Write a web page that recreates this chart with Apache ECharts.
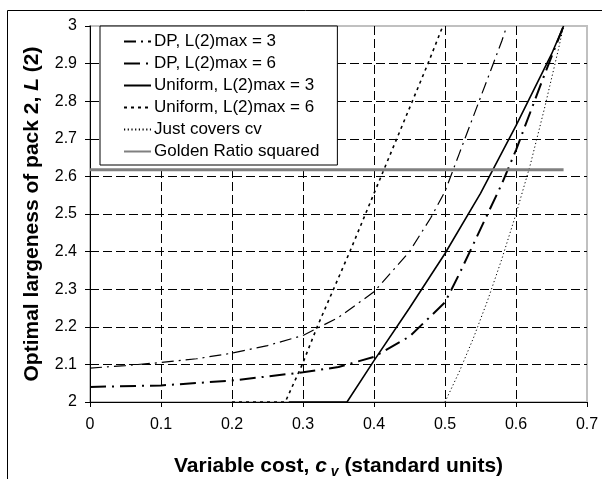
<!DOCTYPE html>
<html>
<head>
<meta charset="utf-8">
<script src="https://cdn.jsdelivr.net/npm/echarts@6/dist/echarts.min.js"></script>
<style>html,body{margin:0;padding:0;background:#fff;}#c{width:602px;height:479px;}</style>
</head>
<body>
<div id="c"></div>
<script>
// ---- data ----
const seriesNames = ["DP, L(2)max = 3", "DP, L(2)max = 6", "Uniform, L(2)max = 3", "Uniform, L(2)max = 6", "Just covers cv", "Golden Ratio squared"];

const dp3X = [0, 0.05, 0.1, 0.15, 0.2, 0.25, 0.3, 0.35, 0.4, 0.45, 0.48, 0.5, 0.52, 0.54, 0.56, 0.58, 0.587];
const dp3Y = [2.09, 2.097, 2.105, 2.115, 2.13, 2.15, 2.177, 2.225, 2.293, 2.40, 2.49, 2.56, 2.66, 2.76, 2.86, 2.96, 3.0];

const dp6X = [0, 0.1, 0.2, 0.3, 0.35, 0.4, 0.45, 0.5, 0.52, 0.54, 0.56, 0.58, 0.6, 0.62, 0.64, 0.667];
const dp6Y = [2.04, 2.044, 2.057, 2.079, 2.093, 2.12, 2.174, 2.265, 2.34, 2.42, 2.5, 2.58, 2.67, 2.77, 2.87, 3.0];

const uni3X = [0.28, 0.362, 0.4, 0.45, 0.5, 0.55, 0.6, 0.65, 0.667];
const uni3Y = [2.0, 2.0, 2.11, 2.25, 2.395, 2.555, 2.735, 2.925, 3.0];

const uni6X = [0.2, 0.275, 0.299, 0.32, 0.343, 0.366, 0.388, 0.41, 0.432, 0.454, 0.476, 0.497];
const uni6Y = [2.0, 2.0, 2.1, 2.2, 2.3, 2.4, 2.5, 2.6, 2.7, 2.8, 2.9, 3.0];

const coverX = [0.5, 0.52, 0.54, 0.56, 0.58, 0.6, 0.62, 0.64, 0.66, 0.667];
const coverY = [2.0, 2.08, 2.17, 2.27, 2.38, 2.5, 2.63, 2.78, 2.94, 3.0];

const goldenX = [0, 0.667];
const goldenY = [2.618, 2.618];

const xMin = 0, xMax = 0.7, xStep = 0.1;
const yMin = 2, yMax = 3, yStep = 0.1;

function pairs(xs, ys) { return xs.map((x, i) => [x, ys[i]]); }

const chart = echarts.init(document.getElementById('c'), null, {renderer: 'canvas'});
const FONT = 'Liberation Sans, Arial, sans-serif';

function lineSeries(name, xs, ys, style) {
  return {
    name: name, type: 'line', data: pairs(xs, ys), symbol: 'none', smooth: false,
    lineStyle: style, itemStyle: {color: style.color}, animation: false
  };
}

const option = {
  animation: false,
  backgroundColor: '#fff',
  textStyle: {fontFamily: FONT},
  grid: {left: 90, top: 26, right: 15, bottom: 77, containLabel: false, outerBoundsMode: 'none',
         show: true, borderColor: '#c0c0c0', borderWidth: 2, backgroundColor: '#fff'},
  legend: {
    orient: 'vertical', left: 100, top: 26,
    padding: [7, 18, 5, 23], itemGap: 5, itemWidth: 27, itemHeight: 16,
    backgroundColor: '#fff', borderColor: '#000', borderWidth: 1,
    itemStyle: {opacity: 0},
    textStyle: {fontFamily: FONT, fontSize: 17, color: '#000', padding: [0, 0, 0, -2]},
    data: seriesNames
  },
  xAxis: {
    type: 'value', min: xMin, max: xMax, interval: xStep,
    name: '{b|Variable cost, }{i|c}{s| v}{b| (standard units)}',
    nameLocation: 'middle', nameGap: 51,
    nameTextStyle: {
      rich: {
        b: {fontFamily: FONT, fontSize: 21, fontWeight: 'bold', color: '#000', lineHeight: 26},
        i: {fontFamily: FONT, fontSize: 21, fontWeight: 'bold', fontStyle: 'italic', color: '#000', lineHeight: 26},
        s: {fontFamily: FONT, fontSize: 14, fontWeight: 'bold', fontStyle: 'italic', color: '#000', lineHeight: 26, verticalAlign: 'bottom'}
      }
    },
    axisLine: {lineStyle: {color: '#000', width: 1}},
    axisTick: {show: true, inside: false, length: 5, lineStyle: {color: '#000'}},
    axisLabel: {fontFamily: FONT, fontSize: 16, color: '#000', margin: 15},
    splitLine: {show: true, showMinLine: false, showMaxLine: false, lineStyle: {color: '#000', width: 1, type: [9, 4]}}
  },
  yAxis: {
    type: 'value', min: yMin, max: yMax, interval: yStep,
    name: '{b|Optimal largeness of pack 2, }{i|L}{b| (2)}',
    nameLocation: 'middle', nameGap: 46, nameRotate: 90,
    nameTextStyle: {
      rich: {
        b: {fontFamily: FONT, fontSize: 21, fontWeight: 'bold', color: '#000', lineHeight: 24},
        i: {fontFamily: FONT, fontSize: 21, fontWeight: 'bold', fontStyle: 'italic', color: '#000', lineHeight: 24}
      }
    },
    axisLine: {show: true, lineStyle: {color: '#000', width: 1}},
    axisTick: {show: true, inside: false, length: 5, lineStyle: {color: '#000'}},
    axisLabel: {fontFamily: FONT, fontSize: 16, color: '#000', margin: 13},
    splitLine: {show: true, showMinLine: false, showMaxLine: false, lineStyle: {color: '#000', width: 1, type: [9, 4]}}
  },
  graphic: [{
    type: 'rect', silent: true, z: 100,
    shape: {x: 7.5, y: 10.5, width: 700, height: 600},
    style: {fill: null, stroke: '#000', lineWidth: 1}
  }],
  series: [
    lineSeries(seriesNames[0], dp3X, dp3Y, {color: '#000', width: 1.2, type: [12, 5, 2, 5]}),
    lineSeries(seriesNames[1], dp6X, dp6Y, {color: '#000', width: 2, type: [16, 6, 2, 6]}),
    lineSeries(seriesNames[2], uni3X, uni3Y, {color: '#000', width: 1.6, type: 'solid'}),
    lineSeries(seriesNames[3], uni6X, uni6Y, {color: '#000', width: 1.6, type: [3, 4]}),
    lineSeries(seriesNames[4], coverX, coverY, {color: '#000', width: 1, type: [1.2, 2.5]}),
    lineSeries(seriesNames[5], goldenX, goldenY, {color: '#808080', width: 3, type: 'solid'})
  ]
};
chart.setOption(option);
</script>
</body>
</html>
